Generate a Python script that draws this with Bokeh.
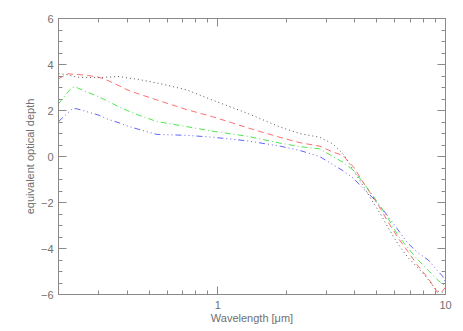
from bokeh.plotting import figure
from bokeh.models import LogAxis, LinearAxis, FixedTicker, Range1d
from bokeh.embed import file_html
from bokeh.resources import INLINE

# Wavelength grid (micron)
wavelength = [0.20, 0.22, 0.23, 0.24, 0.27, 0.30, 0.33, 0.37, 0.40, 0.45, 0.54,
              0.73, 0.95, 1.35, 1.88, 2.30, 2.80, 3.20, 3.55, 3.95, 4.40, 4.80,
              5.20, 5.60, 6.20, 6.80, 7.50, 8.40, 9.20, 9.70, 10.0]

tau_dotted = [3.60, 3.55, 3.50, 3.45, 3.43, 3.43, 3.45, 3.48, 3.42, 3.35, 3.20,
              2.90, 2.45, 1.88, 1.28, 0.99, 0.84, 0.55, 0.12, -0.61, -1.36, -1.98,
              -2.52, -3.10, -3.82, -4.36, -4.80, -5.35, -5.85, -5.90, -5.83]

tau_dashed = [3.38, 3.60, 3.58, 3.57, 3.52, 3.45, 3.30, 3.07, 2.90, 2.72, 2.46,
              2.04, 1.73, 1.25, 0.83, 0.60, 0.45, 0.20, 0.04, -0.46, -1.20, -1.75,
              -2.30, -2.85, -3.55, -4.10, -4.70, -5.30, -5.90, -5.85, -5.68]

tau_dashdot = [2.29, 2.80, 3.01, 3.00, 2.78, 2.60, 2.40, 2.15, 2.00, 1.80, 1.52,
               1.30, 1.10, 0.88, 0.58, 0.43, 0.33, 0.00, -0.25, -0.61, -1.20, -1.70,
               -2.20, -2.70, -3.45, -3.95, -4.45, -4.95, -5.35, -5.55, -5.60]

tau_dash3dot = [1.52, 1.90, 2.07, 2.08, 1.93, 1.80, 1.62, 1.46, 1.33, 1.18, 0.96,
                0.92, 0.84, 0.68, 0.45, 0.26, 0.00, -0.35, -0.62, -0.95, -1.45, -1.80,
                -2.20, -2.60, -3.20, -3.75, -4.15, -4.50, -4.95, -5.20, -5.46]

x_major = [1, 10]
x_labels = ["1", "10"]
x_minor = [0.2, 0.3, 0.4, 0.5, 0.6, 0.7, 0.8, 0.9, 2, 3, 4, 5, 6, 7, 8, 9]
y_major = [-6, -4, -2, 0, 2, 4, 6]
y_labels = ["\u22126", "\u22124", "\u22122", "0", "2", "4", "6"]
y_minor = [v / 2 for v in range(-12, 13)]

FONT = "Liberation Sans"
AX = "#8a8a8a"
TXT = "#707070"

p = figure(width=463, height=331, x_axis_type="log",
           x_range=Range1d(0.2, 10), y_range=Range1d(-6, 6),
           output_backend="svg", toolbar_location=None,
           min_border_left=58, min_border_top=18, min_border_right=18,
           min_border_bottom=37)
p.grid.visible = False
p.outline_line_color = None
p.background_fill_color = "white"
p.border_fill_color = "white"

p.line(wavelength, tau_dotted, line_color="#555555", line_width=1, line_dash="1 3")
p.line(wavelength, tau_dashed, line_color="#ff3030", line_width=1, line_alpha=0.7, line_dash="6 4")
p.line(wavelength, tau_dashdot, line_color="#00dd00", line_width=1, line_alpha=0.7, line_dash="6 3 1 3")
p.line(wavelength, tau_dash3dot, line_color="#2020ff", line_width=1, line_alpha=0.7, line_dash="6 3 1 3 1 3 1 3")


def style(ax, show):
    ax.axis_line_color = AX
    ax.major_tick_line_color = AX
    ax.minor_tick_line_color = AX
    ax.major_tick_in = 8
    ax.major_tick_out = 0
    ax.minor_tick_in = 4
    ax.minor_tick_out = 0
    ax.major_label_text_font = FONT
    ax.major_label_text_color = TXT if show else None
    ax.major_label_text_font_size = "11px" if show else "1px"
    ax.axis_label_text_font = FONT
    ax.axis_label_text_color = TXT
    ax.axis_label_text_font_size = "11px"
    ax.axis_label_text_font_style = "normal"


xa = p.xaxis[0]
xa.ticker = FixedTicker(ticks=x_major, minor_ticks=x_minor)
xa.major_label_overrides = {v: s for v, s in zip(x_major, x_labels)}
xa.axis_label = "Wavelength [\u03bcm]"
style(xa, True)
xa.major_label_standoff = 6
xa.axis_label_standoff = 0

ya = p.yaxis[0]
ya.ticker = FixedTicker(ticks=y_major, minor_ticks=y_minor)
ya.major_label_overrides = {v: s for v, s in zip(y_major, y_labels)}
ya.axis_label = "equivalent optical depth"
style(ya, True)
ya.major_label_standoff = 5
ya.axis_label_standoff = 2

top = LogAxis(ticker=FixedTicker(ticks=x_major, minor_ticks=x_minor))
style(top, False)
top.major_label_standoff = 0
p.add_layout(top, "above")

right = LinearAxis(ticker=FixedTicker(ticks=y_major, minor_ticks=y_minor))
style(right, False)
right.major_label_standoff = 0
p.add_layout(right, "right")

open("out.html", "w").write(file_html(p, INLINE))
